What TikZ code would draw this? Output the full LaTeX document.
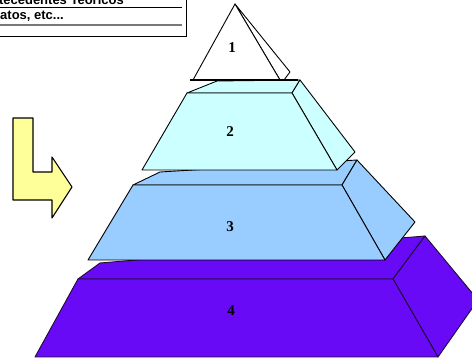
\documentclass[tikz,border=0pt]{standalone}
\usepackage{fontspec}
\usepackage{xcolor}
\usepackage{tikz}
\usetikzlibrary{positioning}
\setsansfont{Liberation Sans}
\setmainfont{Liberation Serif}
\definecolor{PyrCyan}{RGB}{204, 255, 255}
\definecolor{PyrBlue}{RGB}{153, 204, 255}
\definecolor{PyrPurple}{RGB}{104, 10, 245}
\definecolor{PyrEdge}{RGB}{30, 10, 50}
\definecolor{ArrowYellow}{RGB}{255, 255, 153}
\definecolor{BoxGrey}{RGB}{120, 120, 120}

\tikzset{
  face/.style={draw=black, line width=0.9pt, line join=round},
  levelnum/.style={font=\fontsize{15}{17}\selectfont\bfseries, inner sep=0pt},
  boxtext/.style={font=\sffamily\bfseries\fontsize{13}{15}\selectfont, inner sep=0pt}
}

\begin{document}
\begin{tikzpicture}[x=1pt, y=-1pt]
  \useasboundingbox (0,0) rectangle (472,363);
  \fill[white] (0,0) rectangle (472,363);
  \clip (0,0) rectangle (472,363);

  % text box (top left, cut off)
  \draw[black, line width=0.8pt] (-5,-10) rectangle (186,36);
  \draw[black, line width=0.9pt] (-5,7) -- (182,7);
  \draw[BoxGrey, line width=1.8pt] (-5,25) -- (182,25);
  \node[boxtext, anchor=south east] (rowone) at (124,5) {Antecedentes Teóricos};
  \node[boxtext, anchor=west] (rowtwo) at (0,16) {atos, etc...};

  % yellow arrow
  \draw[face, line width=1.1pt, fill=ArrowYellow]
    (13,118) -- (33,118) -- (33,172) -- (52,172) -- (52,157) -- (72,187)
    -- (52,218) -- (52,200) -- (13,200) -- cycle;

  % level 4
  \draw[face, draw=PyrEdge, fill=PyrPurple] (78,279) -- (100,263) -- (425,236) -- (393,279) -- cycle;
  \draw[face, draw=PyrEdge, fill=PyrPurple] (393,279) -- (425,236) -- (478,300) -- (438,357) -- cycle;
  \draw[face, draw=PyrEdge, fill=PyrPurple] (78,279) -- (393,279) -- (438,357) -- (35,357) -- cycle;
  \node[levelnum] (lvfour) at (231,311) {4};

  % level 3
  \draw[face, fill=PyrBlue] (133,185) -- (160,172) -- (357,160) -- (342,185) -- cycle;
  \draw[face, fill=PyrBlue] (342,185) -- (357,160) -- (415,222) -- (385,260) -- cycle;
  \draw[face, fill=PyrBlue] (133,185) -- (342,185) -- (385,260) -- (88,260) -- cycle;
  \node[levelnum] (lvthree) at (230,227) {3};

  % level 2
  \draw[face, fill=PyrCyan] (187,93) -- (217,81) -- (300,80) -- (292,93) -- cycle;
  \draw[face, fill=PyrCyan] (292,93) -- (300,80) -- (355,152) -- (337,170) -- cycle;
  \draw[face, fill=PyrCyan] (187,93) -- (292,93) -- (337,170) -- (142,170) -- cycle;
  \node[levelnum] (lvtwo) at (230,132) {2};

  % level 1
  \draw[face, fill=white] (235,4) -- (290,72) -- (284,80) -- (280,80) -- cycle;
  \draw[face, fill=white] (235,4) -- (280,80) -- (193,80) -- cycle;
  \draw[black, line width=1.4pt] (190,80) -- (298,80);
  \node[levelnum] (lvone) at (232,48) {1};
\end{tikzpicture}
\end{document}
